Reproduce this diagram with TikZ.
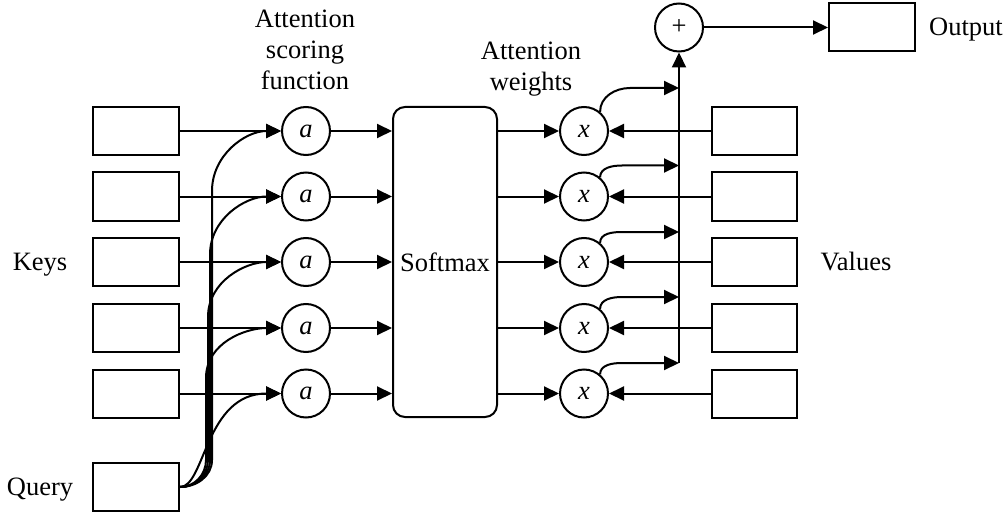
\documentclass[tikz,border=0pt]{standalone}
\usepackage{fontspec}
\setmainfont{Liberation Serif}
\usetikzlibrary{arrows.meta,calc}
\begin{document}
\begin{tikzpicture}[x=1pt,y=-1pt,
  every node/.style={font=\fontsize{26.5}{31}\selectfont},
  lw/.style={line width=2pt},
  box/.style={draw,lw,minimum width=86pt,minimum height=48pt,inner sep=0},
  circ/.style={draw,lw,circle,minimum size=48pt,inner sep=0},
  arr/.style={lw,-{Triangle[length=15pt,width=14pt]}},
  lbl/.style={inner sep=0,anchor=base},
  ttl/.style={inner sep=0,anchor=north,align=center},
]
\useasboundingbox (0,0) rectangle (1008,513);

% nodes
\foreach \i/\y in {1/131,2/196.5,3/262,4/328,5/393.5}{
  \node[box] (k\i) at (136,\y) {};
  \node[circ] (a\i) at (306,\y) {\textit{a}};
  \node[circ] (x\i) at (584,\y) {\textit{x}};
  \node[box,minimum width=85pt] (v\i) at (754.5,\y) {};
}
\node[box] (q) at (136,487) {};
\node[draw,lw,rounded corners=12pt,minimum width=104pt,minimum height=310pt,inner sep=0] (sm) at (445,262) {Softmax};
\node[circ] (p) at (679,27.5) {+};
\node[box] (o) at (872,27.5) {};

% labels
\node[lbl] (keys) at (40,270) {Keys};
\node[lbl] (query) at (40,495.5) {Query};
\node[lbl] (values) at (856,270) {Values};
\node[lbl] (output) at (966,36) {Output};
\node[ttl] (asf) at (305,10) {Attention\\scoring\\function};
\node[ttl] (aw) at (531,42) {Attention\\weights};

% summation line points
\coordinate (s1) at (679,88);
\coordinate (s2) at (679,165.5);
\coordinate (s3) at (679,232);
\coordinate (s4) at (679,297);
\coordinate (s5) at (679,363);

% straight connectors
\foreach \i in {1,...,5}{
  \draw[arr] (k\i) -- (a\i);
  \draw[arr] (a\i.east) -- (a\i.east -| sm.west);
  \draw[arr] (x\i.west -| sm.east) -- (x\i.west);
  \draw[arr] (v\i) -- (x\i);
}

% products to summation line
\draw[arr] (x1.50) to[out=90,in=180] ($(s1)+(-49,0)$) -- (s1);
\foreach \i in {2,...,5}{
  \draw[arr] (x\i.50) to[out=90,in=180] ($(s\i)+(-57,0)$) -- (s\i);
}
\draw[arr] (s5) -- (p.south);
\draw[arr] (p) -- (o);

% query curves
\draw[arr] (q.east) to[out=0,in=-90] (212,460) -- (212,191) to[out=90,in=180] (a1.west);
\draw[arr] (q.east) to[out=0,in=-90] (210,460) -- (210,254.5) to[out=90,in=180] (a2.west);
\draw[arr] (q.east) to[out=0,in=-90] (208,460) -- (208,317) to[out=90,in=180] (a3.west);
\draw[arr] (q.east) to[out=0,in=-90] (206,460) -- (206,378) to[out=90,in=180] (a4.west);
\draw[arr] (q.east) .. controls (205,487) and (205,393.5) .. (a5.west);
\end{tikzpicture}
\end{document}
